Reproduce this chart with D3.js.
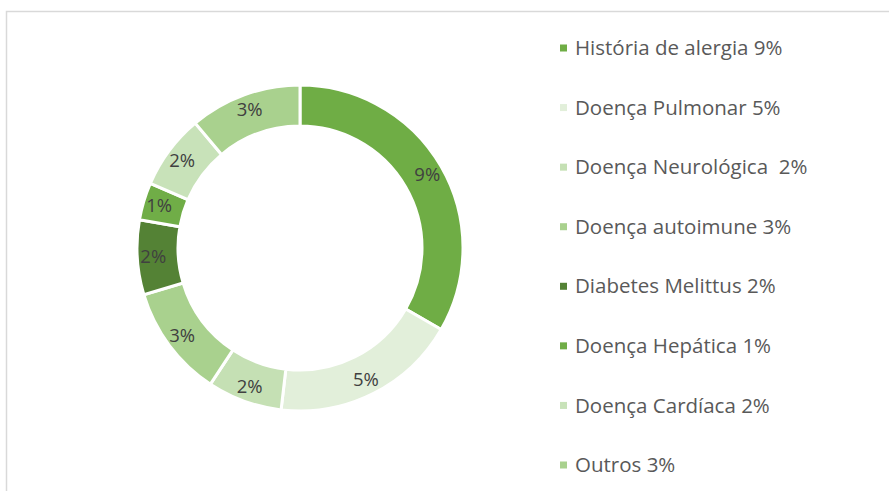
<!DOCTYPE html>
<html>
<head>
<meta charset="utf-8">
<script src="https://cdn.jsdelivr.net/npm/d3@7"></script>
<style>
  body { margin: 0; background: #ffffff; }
  svg { display: block; }
</style>
</head>
<body>
<div id="chart"></div>
<script>
// doughnut of patient comorbidities, legend to the right

const categories = ["História de alergia", "Doença Pulmonar", "Doença Neurológica ", "Doença autoimune",
                    "Diabetes Melittus", "Doença Hepática", "Doença Cardíaca", "Outros"];
const values = [9, 5, 2, 3, 2, 1, 2, 3];
const colors = ["#6fad45", "#e2efda", "#c5e0b4", "#a9d18e", "#548235", "#70ad47", "#c8e2b9", "#a9d18e"];

const width = 889, height = 491;
const cx = 300, cy = 248;
const outerR = 163, innerR = 122;

const svg = d3.select("#chart")
    .append("svg")
    .attr("width", width)
    .attr("height", height);

// chart area frame (only top and left edges fall inside the picture)
svg.append("path")
    .attr("d", "M6.5," + height + "V11.5H" + width)
    .attr("fill", "none")
    .attr("stroke", "#d9d9d9")
    .attr("stroke-width", 1.5);

const data = categories.map((c, i) => ({name: c, value: values[i], color: colors[i]}));

const pie = d3.pie()
    .value(d => d.value)
    .sort(null);

const arc = d3.arc()
    .innerRadius(innerR)
    .outerRadius(outerR);

// labels sit a little outside the ring's middle line
const labelArc = d3.arc()
    .innerRadius(147)
    .outerRadius(147);

const g = svg.append("g")
    .attr("transform", "translate(" + cx + "," + cy + ")");

const arcs = pie(data);

g.selectAll("path")
    .data(arcs)
    .enter().append("path")
    .attr("d", arc)
    .attr("fill", d => d.data.color)
    .attr("stroke", "#ffffff")
    .attr("stroke-width", 3);

// percentage labels in the ring
g.selectAll("text")
    .data(arcs)
    .enter().append("text")
    .attr("transform", d => "translate(" + labelArc.centroid(d) + ")")
    .attr("text-anchor", "middle")
    .attr("dy", "0.35em")
    .style("font-family", "'Open Sans', sans-serif")
    .style("font-size", "18.5px")
    .style("fill", "#404040")
    .text(d => d.data.value + "%");

// legend
const legendY = d3.scalePoint()
    .domain(categories)
    .range([48, 465]);

const legend = svg.append("g")
    .selectAll("g")
    .data(data)
    .enter().append("g")
    .attr("transform", d => "translate(560," + legendY(d.name) + ")");

legend.append("rect")
    .attr("x", 0)
    .attr("y", -3.5)
    .attr("width", 7)
    .attr("height", 7)
    .attr("fill", d => d.color);

legend.append("text")
    .attr("x", 15)
    .attr("dy", "0.35em")
    .style("font-family", "'Open Sans', sans-serif")
    .style("font-size", "20.5px")
    .style("fill", "#595959")
    .style("white-space", "pre")
    .text(d => d.name + " " + d.value + "%");
</script>
</body>
</html>
